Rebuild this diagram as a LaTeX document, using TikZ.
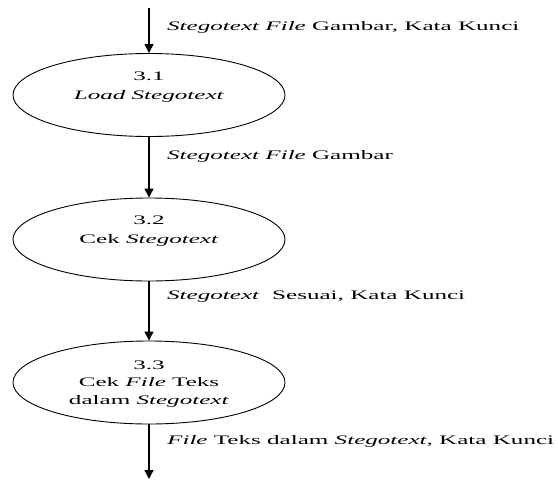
\documentclass[tikz,border=0pt]{standalone}
\usepackage{fontspec}
\setmainfont{Liberation Serif}[FakeStretch=1.93]
\usetikzlibrary{shapes.geometric,arrows.meta}
\begin{document}
\begin{tikzpicture}[x=1pt,y=-1pt,
  proc/.style={draw,ellipse,line width=0.9pt,minimum width=272pt,minimum height=83pt,inner sep=0pt},
  ptext/.style={align=center,font=\fontsize{13}{19}\selectfont,inner sep=0pt},
  flow/.style={draw,line width=1.3pt,-{Triangle[length=9pt,width=9pt]}},
  flab/.style={anchor=west,font=\fontsize{13}{15}\selectfont,inner sep=0pt}]
\useasboundingbox (0,0) rectangle (558,480);
\node[proc] (p1) at (149,95) {};
\node[ptext] (t1) at (149,87) {3.1\\\textit{Load Stegotext}};
\node[proc] (p2) at (149,239.5) {};
\node[ptext] (t2) at (149,231) {3.2\\Cek \textit{Stegotext}};
\node[proc] (p3) at (149,382.5) {};
\node[ptext,font=\fontsize{13}{17.5}\selectfont] (t3) at (149,384) {3.3\\Cek \textit{File} Teks\\dalam \textit{Stegotext}};
\coordinate (s) at (149,8);
\coordinate (e) at (149,479);
\draw[flow] (s) -- (p1.north);
\draw[flow] (p1.south) -- (p2.north);
\draw[flow] (p2.south) -- (p3.north);
\draw[flow] (p3.south) -- (e);
\node[flab] (l1) at (167,27) {\textit{Stegotext File} Gambar, Kata Kunci};
\node[flab] (l2) at (167,156) {\textit{Stegotext File} Gambar};
\node[flab] (l3) at (167,297) {\textit{Stegotext}\ \ Sesuai, Kata Kunci};
\node[flab] (l4) at (167,441) {\textit{File} Teks dalam \textit{Stegotext}, Kata Kunci};
\end{tikzpicture}
\end{document}
